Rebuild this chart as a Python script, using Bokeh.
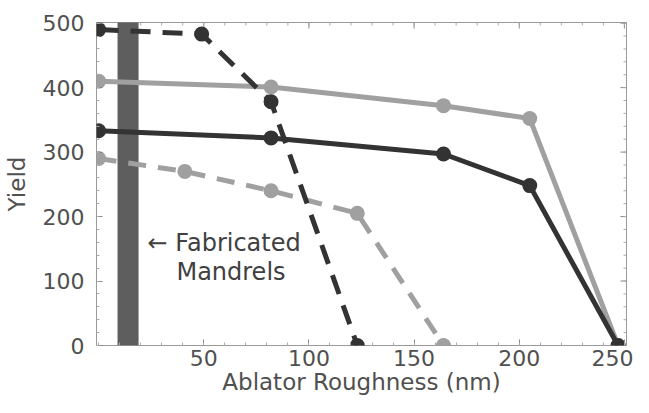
import math
from bokeh.plotting import figure
from bokeh.models import Range1d, FixedTicker
from bokeh.core.properties import value
from bokeh.embed import file_html
from bokeh.resources import INLINE

# ---- data ----
x_dark_dash = [0, 49, 82, 123]
y_dark_dash = [490, 483, 378, 0]

x_light_solid = [0, 82, 164, 205, 247]
y_light_solid = [410, 401, 372, 352, 0]

x_dark_solid = [0, 82, 164, 205, 247]
y_dark_solid = [333, 322, 297, 248, 0]

x_light_dash = [0, 41, 82, 123, 164]
y_light_dash = [290, 270, 240, 205, 0]

band_left = [9]
band_right = [19]
band_bottom = [0]
band_top = [510]

x_ticks = [50, 100, 150, 200, 250]
y_ticks = [0, 100, 200, 300, 400, 500]
x_minor = list(range(0, 251, 10))
y_minor = list(range(0, 501, 20))

note_line1 = ["\u2190 Fabricated"]
note_line2 = ["Mandrels"]
note_x1 = [23.3]
note_y1 = [159]
note_x2 = [37]
note_y2 = [114]

X_MIN, X_MAX = -1, 251
Y_MIN, Y_MAX = 0, 501

FONT = "DejaVu Sans"
DARK = "#333333"
LIGHT = "#a0a0a0"
TXT = "#505050"

p = figure(width=633, height=397, output_backend="svg", toolbar_location=None,
           x_range=Range1d(X_MIN, X_MAX), y_range=Range1d(Y_MIN, Y_MAX),
           min_border_left=95, min_border_right=7, min_border_top=22,
           min_border_bottom=50)
p.background_fill_color = "white"
p.border_fill_color = "white"
p.outline_line_color = "#999999"
p.outline_line_width = 1
p.xgrid.visible = False
p.ygrid.visible = False

for ax in (p.xaxis[0], p.yaxis[0]):
    ax.major_tick_in = 6
    ax.major_tick_out = 0
    ax.minor_tick_in = 3
    ax.minor_tick_out = 0
    ax.major_tick_line_color = "#888888"
    ax.minor_tick_line_color = "#aaaaaa"
    ax.axis_line_color = None
    ax.major_label_text_font = FONT
    ax.major_label_text_color = TXT
    ax.major_label_text_font_size = "22px"
    ax.axis_label_text_font = FONT
    ax.axis_label_text_color = TXT
    ax.axis_label_text_font_size = "23px"
    ax.axis_label_text_font_style = "normal"

p.xaxis.ticker = FixedTicker(ticks=x_ticks, minor_ticks=x_minor)
p.yaxis.ticker = FixedTicker(ticks=y_ticks, minor_ticks=y_minor)
p.xaxis.axis_label = "Ablator Roughness (nm)"
p.yaxis.axis_label = "Yield"
p.xaxis.major_label_standoff = 4
p.xaxis.axis_label_standoff = 0
p.yaxis.major_label_standoff = 12
p.yaxis.axis_label_standoff = 10

# ticks on top and right frame edges (inside), as screen-length rays
p.ray(x=x_ticks, y=[Y_MAX] * len(x_ticks), length=6, length_units="screen",
      angle=-math.pi / 2, line_color="#888888", line_width=1)
p.ray(x=x_minor, y=[Y_MAX] * len(x_minor), length=3, length_units="screen",
      angle=-math.pi / 2, line_color="#aaaaaa", line_width=1)
p.ray(x=[X_MAX] * len(y_ticks), y=y_ticks, length=6, length_units="screen",
      angle=math.pi, line_color="#888888", line_width=1)
p.ray(x=[X_MAX] * len(y_minor), y=y_minor, length=3, length_units="screen",
      angle=math.pi, line_color="#aaaaaa", line_width=1)

# band of fabricated mandrels
p.quad(left=band_left, right=band_right, bottom=band_bottom, top=band_top,
       fill_color="#5e5e5e", line_color=None)

# series
p.line(x_light_solid, y_light_solid, line_color=LIGHT, line_width=5)
p.scatter(x_light_solid, y_light_solid, size=15, fill_color=LIGHT, line_color=None)

p.line(x_dark_solid, y_dark_solid, line_color=DARK, line_width=5)
p.scatter(x_dark_solid, y_dark_solid, size=15, fill_color=DARK, line_color=None)

p.line(x_light_dash, y_light_dash, line_color=LIGHT, line_width=5, line_dash="18 12")
p.scatter(x_light_dash, y_light_dash, size=15, fill_color=LIGHT, line_color=None)

p.line(x_dark_dash, y_dark_dash, line_color=DARK, line_width=5, line_dash="20 12")
p.scatter(x_dark_dash, y_dark_dash, size=15, fill_color=DARK, line_color=None)

# annotation
p.text(x=note_x1, y=note_y1, text=note_line1, text_font=value(FONT),
       text_font_size="24px", text_color="#404040", text_baseline="alphabetic")
p.text(x=note_x2, y=note_y2, text=note_line2, text_font=value(FONT),
       text_font_size="24px", text_color="#404040", text_baseline="alphabetic")

open("out.html", "w").write(file_html(p, INLINE))
